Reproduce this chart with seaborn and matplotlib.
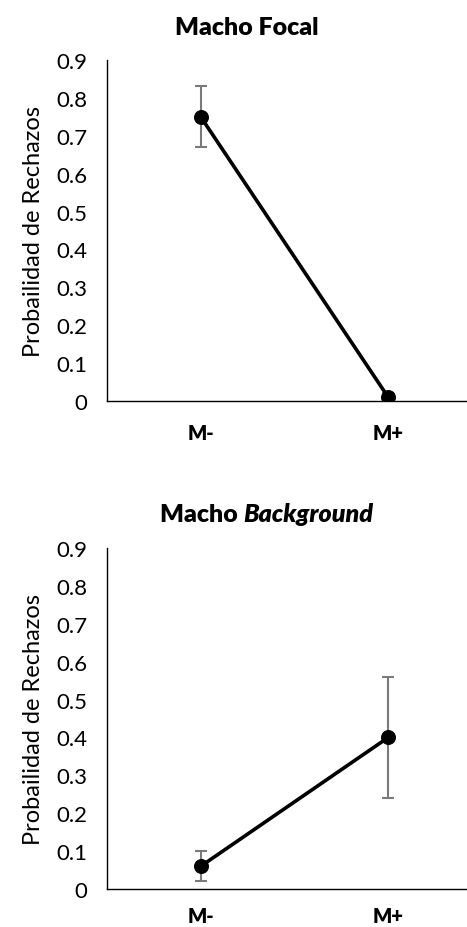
import matplotlib
matplotlib.use("Agg")
import matplotlib.pyplot as plt
import seaborn as sns
import pandas as pd

categories = ["M-", "M+"]
focal_values = [0.75, 0.01]
focal_lower = [0.67, 0.00]
focal_upper = [0.83, 0.02]
bg_values = [0.06, 0.40]
bg_lower = [0.02, 0.24]
bg_upper = [0.10, 0.56]
yticks = [0, 0.1, 0.2, 0.3, 0.4, 0.5, 0.6, 0.7, 0.8, 0.9]
ytick_labels = ["0", "0.1", "0.2", "0.3", "0.4", "0.5", "0.6", "0.7", "0.8", "0.9"]

sns.set_style("white")
plt.rcParams["font.family"] = ["Lato", "DejaVu Sans"]
plt.rcParams["text.color"] = "black"
plt.rcParams["xtick.color"] = "black"
plt.rcParams["ytick.color"] = "black"
plt.rcParams["axes.labelcolor"] = "black"

fig = plt.figure(figsize=(4.67, 9.28), dpi=100)
ax1 = fig.add_axes([0.229, 0.5668, 0.803, 0.3675])
ax2 = fig.add_axes([0.229, 0.0409, 0.803, 0.3675])

def draw(ax, values, lower, upper, xpad):
    x = list(range(len(categories)))
    df = pd.DataFrame({"x": x, "y": values})
    yerr = [[v - l for v, l in zip(values, lower)], [u - v for v, u in zip(values, upper)]]
    ax.errorbar(x, values, yerr=yerr, fmt="none", ecolor="#7a7a7a", elinewidth=1.5,
                capsize=4.3, capthick=1.5, zorder=2)
    sns.lineplot(data=df, x="x", y="y", ax=ax, color="black", linewidth=2.6,
                 marker="o", markersize=10, markeredgecolor="black", zorder=3)
    ax.set_xlim(-0.5, 1.5)
    ax.set_ylim(0, 0.9)
    ax.set_yticks(yticks)
    ax.set_yticklabels(ytick_labels, fontsize=16)
    ax.set_xticks(x)
    ax.set_xticklabels(categories, fontsize=14.5, fontweight="heavy")
    ax.tick_params(axis="both", length=0)
    ax.tick_params(axis="x", pad=xpad)
    ax.tick_params(axis="y", pad=14)
    ax.set_xlabel("")
    ax.set_ylabel("Probailidad de Rechazos", fontsize=17, labelpad=9)
    for s in ["top", "right"]:
        ax.spines[s].set_visible(False)
    for s in ["left", "bottom"]:
        ax.spines[s].set_color("black")
        ax.spines[s].set_linewidth(1.0)
    ax.grid(False)

draw(ax1, focal_values, focal_lower, focal_upper, 16)
draw(ax2, bg_values, bg_lower, bg_upper, 12)

fig.text(247 / 467, 1 - 28 / 928, "Macho Focal", ha="center", va="center",
         fontsize=18, fontweight="heavy")
fig.text(243 / 467, 1 - 515 / 928, "Macho ", ha="right", va="center",
         fontsize=18, fontweight="heavy")
fig.text(243 / 467, 1 - 515 / 928, "Background", ha="left", va="center",
         fontsize=18, fontweight="heavy", style="italic")

fig.savefig("out.png", dpi=100)
